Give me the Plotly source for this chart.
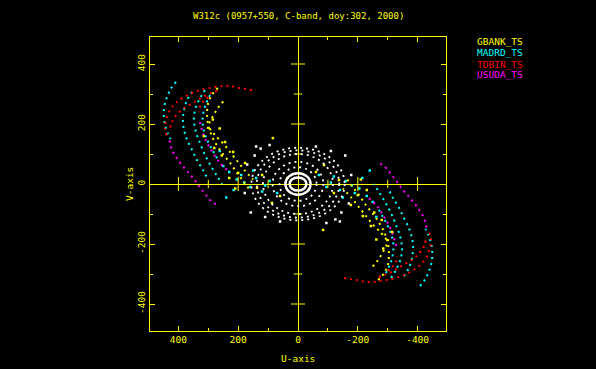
import numpy as np
import plotly.graph_objects as go

# ---------------- data (one half of the uv plane; conjugate points are -u,-v) -------------
title = "W312c (0957+550, C-band, doy:302, 2000)"
stations = ["GBANK_TS", "MADRD_TS", "TDBIN_TS", "USUDA_TS"]
station_colors = ["#FFFF00", "#00FFFF", "#FF0000", "#FF00FF"]

# TDBIN_TS tracks
tdbin_u1 = [154, 194, 234, 278, 328, 368, 405, 428, 441, 445, 438]
tdbin_v1 = [313, 320, 327, 323, 313, 297, 273, 247, 213, 180, 160]
tdbin_u2 = [270, 291, 324, 351, 385, 408, 422, 428]
tdbin_v2 = [310, 303, 287, 270, 250, 228, 205, 185]
tdbin_u3 = [300, 311, 322, 328, 331]
tdbin_v3 = [290, 280, 270, 258, 240]

# MADRD_TS tracks
madrd_u1 = [408, 425, 438, 447, 449, 445, 436, 426]
madrd_v1 = [340, 318, 290, 260, 228, 197, 170, 150]
madrd_u2 = [354, 371, 381, 385, 381, 371, 354, 338, 318, 304]
madrd_v2 = [307, 280, 247, 213, 180, 147, 113, 80, 47, 20]
madrd_u3 = [311, 331, 344, 348, 341, 328, 311, 291, 271, 254]
madrd_v3 = [313, 280, 247, 213, 173, 137, 97, 60, 27, 0]
madrd_u4 = [294, 308, 318, 318, 308, 290, 270]
madrd_v4 = [297, 267, 230, 193, 157, 120, 85]
madrd_su = [250, 230, 205, 180, 160, 140, 120, 95, 70, 215, 190, 262, 150, 110, 240]
madrd_sv = [60, 40, 15, 5, -10, 20, -25, 10, -30, -20, 30, 110, 45, -5, -45]

# GBANK_TS tracks
gbank_u1 = [268, 288, 301, 304, 301, 291, 274, 251, 227, 204, 181, 161]
gbank_v1 = [320, 297, 267, 233, 200, 167, 133, 100, 70, 37, 7, -20]
gbank_u2 = [250, 268, 284, 298, 304]
gbank_v2 = [275, 253, 227, 200, 173]
gbank_u3 = [296, 275, 250, 226, 202, 178, 150]
gbank_v3 = [185, 160, 135, 105, 75, 45, 15]
gbank_su = [244, 217, 200, 177, 137, 87, 84, 262, 285, 315, 230, 120, 60, 35, 255, 280, 210]
gbank_sv = [140, 107, 37, 70, -13, -63, 153, 185, 215, 160, 20, 30, -40, 20, 95, 120, -15]

# USUDA_TS tracks
usuda_u1 = [430, 421, 401, 375, 351, 331, 308, 284, 264]
usuda_v1 = [145, 113, 80, 47, 20, -7, -37, -63, -70]
usuda_u2 = [328, 318, 304, 284, 261, 237]
usuda_v2 = [207, 170, 137, 103, 70, 47]

# ground-ground baselines (white rings): semi-axes in u and v
ring_u = [28, 42, 62, 85, 117, 138, 156]
ring_v = [22, 36, 56, 74, 100, 112, 121]
white_su = [140, 170, 125, 158, 95, 178, 60, 145, 110]
white_sv = [125, 65, 118, -95, 130, -30, -125, 95, -110]

major_ticks = [-400, -200, 200, 400]
minor_ticks = [-300, -100, 100, 300]
x_tickvals = [400, 200, 0, -200, -400]
y_tickvals = [400, 200, 0, -200, -400]
tick_text = ["400", "200", "0", "-200", "-400"]

# ---------------- figure -------------
fig = go.Figure()
YEL = "#FFFF00"
DOT = "2px,4px"

def add_track(u, v, color):
    u = np.array(u, float); v = np.array(v, float)
    for uu, vv in ((u, v), (-u, -v)):
        fig.add_trace(go.Scatter(x=uu, y=vv, mode="lines",
                                 line=dict(color=color, width=2, dash=DOT, shape="spline"),
                                 hoverinfo="skip", showlegend=False))

def add_scatter(u, v, color):
    u = np.array(u, float); v = np.array(v, float)
    fig.add_trace(go.Scatter(x=np.concatenate([u, -u]), y=np.concatenate([v, -v]), mode="markers",
                             marker=dict(color=color, size=2.5, symbol="square", line=dict(width=0)),
                             hoverinfo="skip", showlegend=False))

# rings
for i, (a, b) in enumerate(zip(ring_u, ring_v)):
    fig.add_shape(type="circle", xref="x", yref="y", x0=-a, x1=a, y0=-b, y1=b,
                  line=dict(color="white", width=2.5 if i < 2 else 1.8,
                            dash="solid" if i < 2 else DOT), layer="above")
add_scatter(white_su, white_sv, "white")

add_track(madrd_u1, madrd_v1, station_colors[1])
add_track(madrd_u2, madrd_v2, station_colors[1])
add_track(madrd_u3, madrd_v3, station_colors[1])
add_track(madrd_u4, madrd_v4, station_colors[1])
add_scatter(madrd_su, madrd_sv, station_colors[1])
add_track(usuda_u1, usuda_v1, station_colors[3])
add_track(usuda_u2, usuda_v2, station_colors[3])
add_track(tdbin_u1, tdbin_v1, station_colors[2])
add_track(tdbin_u2, tdbin_v2, station_colors[2])
add_track(tdbin_u3, tdbin_v3, station_colors[2])
add_track(gbank_u1, gbank_v1, station_colors[0])
add_track(gbank_u2, gbank_v2, station_colors[0])
add_track(gbank_u3, gbank_v3, station_colors[0])
add_scatter(gbank_su, gbank_sv, station_colors[0])

# tick marks crossing the zero lines
for ticks, size in ((major_ticks, 10), (minor_ticks, 6)):
    fig.add_trace(go.Scatter(x=ticks, y=[0] * len(ticks), mode="markers",
                             marker=dict(symbol="line-ns", size=size, line=dict(color=YEL, width=1)),
                             hoverinfo="skip", showlegend=False))
    fig.add_trace(go.Scatter(x=[0] * len(ticks), y=ticks, mode="markers",
                             marker=dict(symbol="line-ew", size=size, line=dict(color=YEL, width=1)),
                             hoverinfo="skip", showlegend=False))

FONT = "DejaVu Sans Mono"
axis_common = dict(showgrid=False, zeroline=True, zerolinecolor=YEL, zerolinewidth=1,
                   showline=True, linecolor=YEL, linewidth=1, mirror="ticks",
                   ticks="inside", ticklen=5, tickwidth=1, tickcolor=YEL,
                   tickfont=dict(family=FONT, size=9.5, color=YEL),
                   minor=dict(tickvals=minor_ticks, ticks="inside", ticklen=3, tickcolor=YEL, tickwidth=1))

fig.update_xaxes(range=[495, -495], tickmode="array", tickvals=x_tickvals, ticktext=tick_text, **axis_common)
fig.update_yaxes(range=[-490, 490], tickmode="array", tickvals=y_tickvals, ticktext=tick_text,
                 tickangle=-90, **axis_common)

ann = [
    dict(text=title, x=0.5, y=1.071, xref="paper", yref="paper", showarrow=False,
         font=dict(family=FONT, size=9, color=YEL), xanchor="center", yanchor="middle"),
    dict(text="U-axis", x=0.5, y=-0.092, xref="paper", yref="paper", showarrow=False,
         font=dict(family=FONT, size=9.5, color=YEL), xanchor="center", yanchor="middle"),
    dict(text="V-axis", x=-0.071, y=0.5, xref="paper", yref="paper", showarrow=False, textangle=-90,
         font=dict(family=FONT, size=9.5, color=YEL), xanchor="center", yanchor="middle"),
]
leg_y = [0.983, 0.946, 0.908, 0.874]
for name, col, yy in zip(stations, station_colors, leg_y):
    ann.append(dict(text=name, x=1.098, y=yy, xref="paper", yref="paper", showarrow=False,
                    font=dict(family=FONT, size=9.5, color=col), xanchor="left", yanchor="middle"))

fig.update_layout(width=596, height=369, paper_bgcolor="black", plot_bgcolor="black",
                  margin=dict(l=150, r=150, t=37, b=38), annotations=ann, showlegend=False)

fig.write_html("out.html", config={"displayModeBar": False, "staticPlot": True},
               post_script="document.body.style.margin='0';document.body.style.background='black';")
